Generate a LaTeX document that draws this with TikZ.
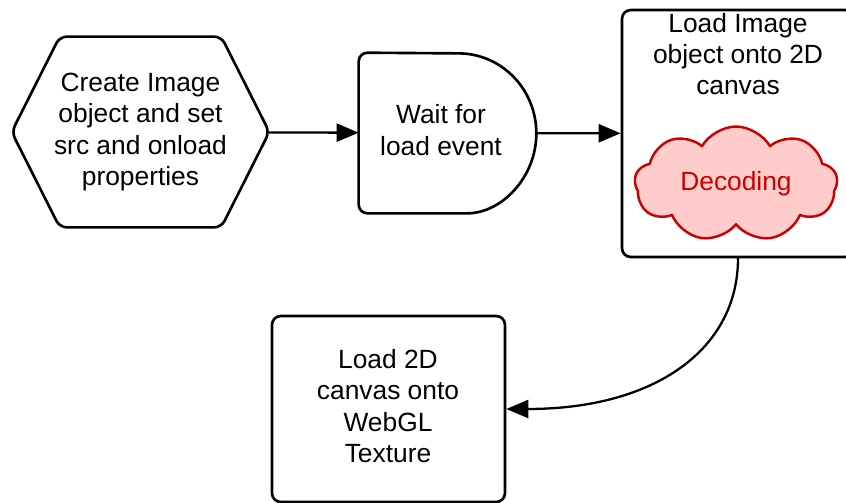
\documentclass[tikz,border=0pt]{standalone}
\usepackage{fontspec}
\setmainfont{Liberation Sans}
\usetikzlibrary{arrows.meta,shapes.symbols,positioning}
\definecolor{cloudred}{HTML}{CC0000}
\definecolor{cloudpink}{HTML}{FFCCCC}
\begin{document}
\begin{tikzpicture}[x=0.02cm,y=-0.02cm,line join=round,line cap=round,
	font=\fontsize{15}{17.8}\selectfont,
	flow/.style={line width=1.3pt,-{Triangle[length=0.44cm,width=0.36cm]}},
	txt/.style={align=center,inner sep=0pt},
	box/.style={draw,line width=1.5pt,rounded corners=5pt,align=center}]
	\useasboundingbox (0,0) rectangle (846,503);
	\clip (0,0) rectangle (846,503);
	%%%%%%%%%% Hexagon
	\node[txt,minimum width=5.14cm,minimum height=3.8cm](create) at (140.5,132){Create Image\\object and set\\src and onload\\properties};
	\draw[line width=1.5pt,rounded corners=4pt](create.west)--([xshift=0.96cm]create.north west)--([xshift=-0.96cm]create.north east)--(create.east)--([xshift=-0.96cm]create.south east)--([xshift=0.96cm]create.south west)--cycle;
	%%%%%%%%%% Delay
	\node[txt,minimum width=3.54cm,minimum height=3.2cm](wait) at (447.5,133){};
	\node[txt](waittxt) at (441,130){Wait for\\load event};
	\draw[line width=1.5pt]([xshift=-1.56cm]wait.south east)arc[start angle=-90,end angle=90,x radius=1.56cm,y radius=1.6cm][rounded corners=5pt]--(wait.north west)--(wait.south west)--cycle;
	%%%%%%%%%% Load Image
	\node[box,minimum width=4.64cm,minimum height=4.94cm](load) at (738,133.5){};
	\node[txt](loadtxt) at (738,54){Load Image\\object onto 2D\\canvas};
	\node[cloud,cloud puffs=9,cloud puff arc=120,aspect=1.8,draw=cloudred,fill=cloudpink,text=cloudred,line width=1.4pt,minimum width=4.06cm,minimum height=2.3cm,inner sep=0pt](decode) at (736,184){Decoding};
	%%%%%%%%%% Texture
	\node[box,minimum width=4.66cm,minimum height=3.72cm](texture) at (388.5,409){};
	\node[txt](texturetxt) at (388,406){Load 2D\\canvas onto\\WebGL\\Texture};
	%%%%%%%%%% Arrows
	\draw[flow](create)--(wait);
	\draw[flow](wait)--(load);
	\draw[flow](load.south)..controls +(0,90) and +(150,0)..(texture.east);
\end{tikzpicture}
\end{document}
